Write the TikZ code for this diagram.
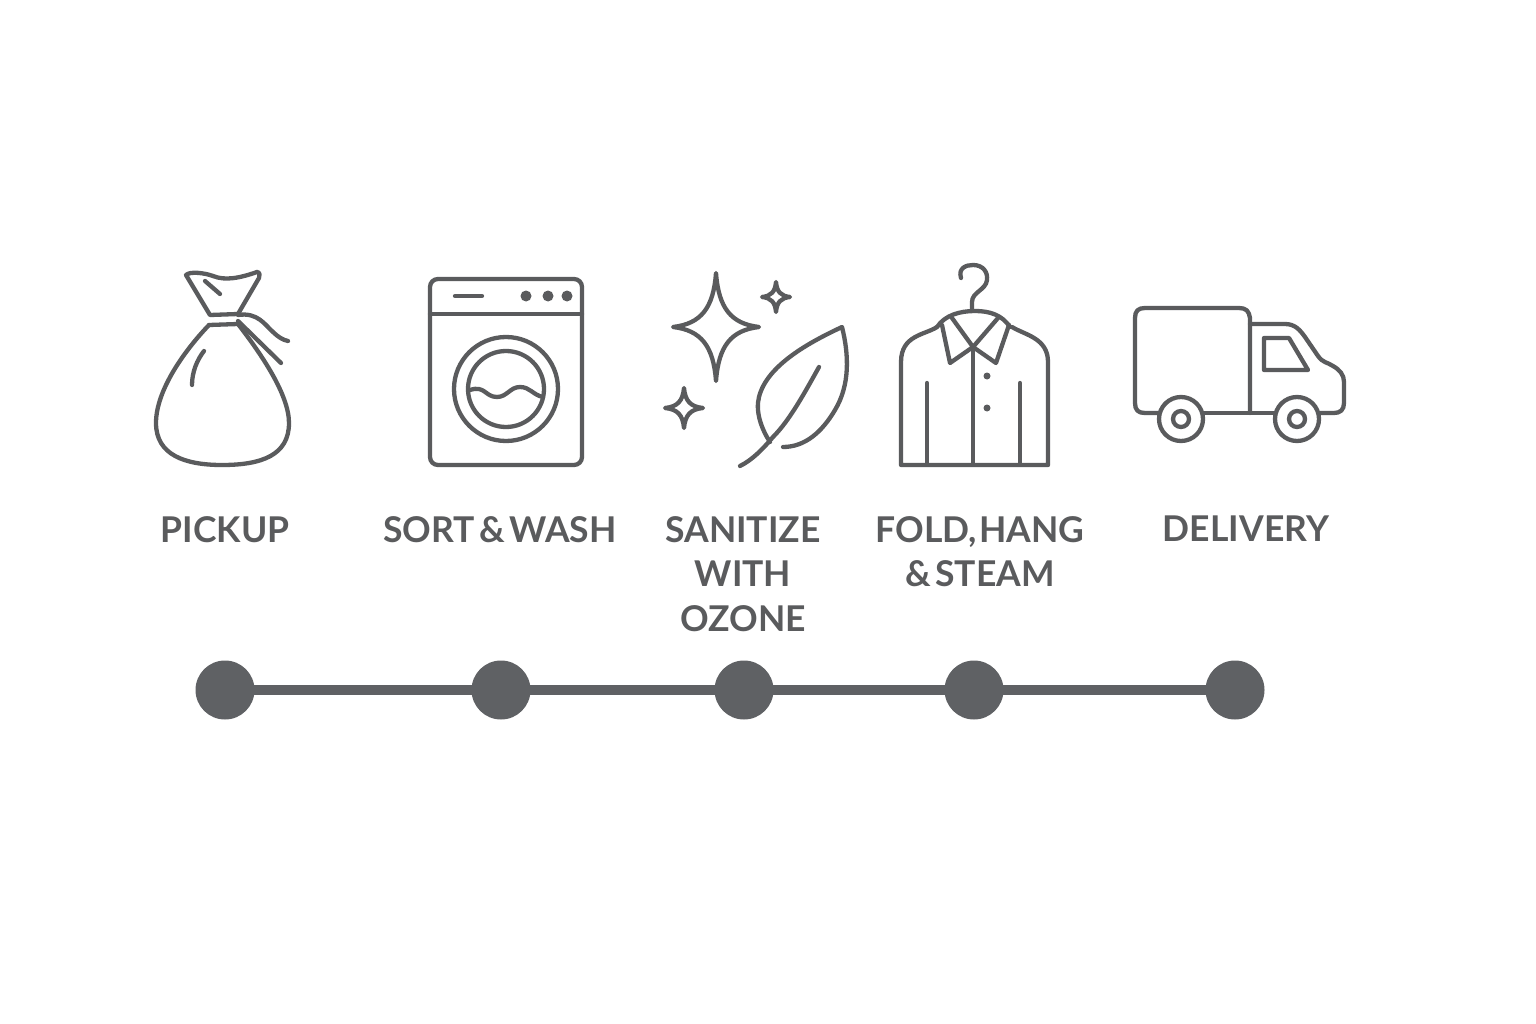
\documentclass[tikz,border=0pt]{standalone}
\usepackage{fontspec}
\setmainfont{Lato}
\definecolor{inkgray}{HTML}{5A5B5D}
\definecolor{dotgray}{HTML}{5F6164}
\begin{document}
\begin{tikzpicture}[x=1pt,y=-1pt]
	\tikzset{dot/.style={circle, fill=dotgray, inner sep=0pt, minimum size=59pt}}
	\tikzset{bar/.style={dotgray, line width=10pt, shorten <=-3pt, shorten >=-3pt}}
	\tikzset{icon/.style={draw=inkgray, line width=4.3pt, line cap=round, line join=round}}
	\tikzset{steplabel/.style={anchor=north, inner sep=0pt, align=center, text=inkgray, font=\fontsize{35.5}{44.5}\selectfont\bfseries, execute at begin node={\spaceskip=4.5pt\relax}}}
	\useasboundingbox (0,0) rectangle (1536,1024);
	% bag
	\draw[icon] (186,275) .. controls (190,271) and (205,273) .. (213,276) .. controls (225,281) and (240,278) .. (257,272) .. controls (260,272) and (260,276) .. (259,278) -- (238,314) -- (210,315) -- cycle;
	\draw[icon] (205,281) -- (220,294);
	\draw[icon] (209,325) -- (238,324);
	\draw[icon] (209,325) .. controls (185,350) and (156,390) .. (156,423) .. controls (156,455) and (185,465) .. (222,465) .. controls (262,465) and (289,455) .. (289,423) .. controls (289,395) and (262,355) .. (238,324);
	\draw[icon] (204,351) .. controls (197,360) and (192,372) .. (192,385);
	\draw[icon] (238,315) .. controls (258,312) and (265,325) .. (273,332) .. controls (278,337) and (283,340) .. (288,341);
	\draw[icon] (238,321) -- (281,363);
	% washer
	\draw[icon, rounded corners=8pt] (430,279) rectangle (582,465);
	\draw[icon] (430,314) -- (582,314);
	\draw[icon] (455,296) -- (482,296);
	\foreach \dx in {526,548,567}
		\fill[inkgray] (\dx,296) circle (5.5pt);
	\draw[icon] (506,389) circle (52pt);
	\draw[icon] (506,389) circle (38pt);
	\draw[icon] (470,390) .. controls (485,385) and (485,397) .. (497,397) .. controls (507,397) and (510,387) .. (520,387) .. controls (530,387) and (533,395) .. (543,397);
	% sparkles
	\foreach \cx/\cy/\rw/\rh in {716/327/43/54, 776/297/14/15, 684/408/19/20}
		\draw[icon] (\cx,{\cy-\rh}) .. controls ({\cx+0.06*\rw},{\cy-0.35*\rh}) and ({\cx+0.35*\rw},{\cy-0.06*\rh}) .. ({\cx+\rw},\cy)
			.. controls ({\cx+0.35*\rw},{\cy+0.06*\rh}) and ({\cx+0.06*\rw},{\cy+0.35*\rh}) .. (\cx,{\cy+\rh})
			.. controls ({\cx-0.06*\rw},{\cy+0.35*\rh}) and ({\cx-0.35*\rw},{\cy+0.06*\rh}) .. ({\cx-\rw},\cy)
			.. controls ({\cx-0.35*\rw},{\cy-0.06*\rh}) and ({\cx-0.06*\rw},{\cy-0.35*\rh}) .. cycle;
	% leaf
	\draw[icon] (770,442) .. controls (762,430) and (755,412) .. (759,397) .. controls (767,365) and (810,342) .. (842,327) .. controls (849,355) and (850,385) .. (835,410) .. controls (822,432) and (805,447) .. (783,447);
	\draw[icon] (819,367) .. controls (805,392) and (790,420) .. (773,437) .. controls (762,450) and (752,460) .. (740,466);
	% shirt
	\draw[icon] (961,278) .. controls (958,268) and (966,265) .. (973,265) .. controls (983,265) and (988,272) .. (987,280) .. controls (986,290) and (972,292) .. (972,302) -- (972,310);
	\draw[icon] (937,327) .. controls (945,315) and (960,311) .. (975,311) .. controls (990,311) and (1002,315) .. (1010,327);
	\draw[icon] (942,325) -- (950,363) -- (973,347) -- (996,363) -- (1009,325);
	\draw[icon] (952,318) -- (973,347) -- (998,318);
	\draw[icon] (937,327) .. controls (925,335) and (901,335) .. (901,362) -- (901,465) -- (1048,465) -- (1048,362) .. controls (1048,338) and (1025,335) .. (1012,327);
	\draw[icon] (973,347) -- (973,463);
	\draw[icon] (927,383) -- (927,463);
	\draw[icon] (1020,383) -- (1020,463);
	\fill[inkgray] (987,376) circle (3.5pt);
	\fill[inkgray] (987,408) circle (3.5pt);
	% truck
	\draw[icon] (1159,413) -- (1145,413) .. controls (1138,413) and (1135,410) .. (1135,403) -- (1135,318) .. controls (1135,311) and (1138,308) .. (1145,308) -- (1239,308) .. controls (1246,308) and (1249,311) .. (1250,318) -- (1250,413);
	\draw[icon] (1203,413) -- (1274,413);
	\draw[icon] (1250,324) -- (1285,324) .. controls (1295,324) and (1300,330) .. (1305,337) -- (1318,356) .. controls (1323,363) and (1327,362) .. (1333,366) .. controls (1340,370) and (1344,375) .. (1344,382) -- (1344,403) .. controls (1344,410) and (1340,413) .. (1334,413) -- (1320,413);
	\draw[icon] (1264,338) -- (1289,338) -- (1308,370) -- (1264,370) -- cycle;
	\foreach \wx in {1181,1297} {
		\draw[icon] (\wx,419) circle (22pt);
		\draw[icon] (\wx,419) circle (8pt);
	}
	% labels
	\node[steplabel] (pickup) at (225,516) {PICKUP};
	\node[steplabel] (sortwash) at (500,516) {SORT \& WASH};
	\node[steplabel] (sanitize) at (743,516) {SANITIZE\\WITH\\OZONE};
	\node[steplabel] (fold) at (980,516) {FOLD,\kern2pt HANG\\\& STEAM};
	\node[steplabel] (delivery) at (1246,516) {DELIVERY};
	% timeline
	\node[dot] (d1) at (225,690) {};
	\node[dot] (d2) at (501,690) {};
	\node[dot] (d3) at (744,690) {};
	\node[dot] (d4) at (974,690) {};
	\node[dot] (d5) at (1235,690) {};
	\draw[bar] (d1) -- (d2);
	\draw[bar] (d2) -- (d3);
	\draw[bar] (d3) -- (d4);
	\draw[bar] (d4) -- (d5);
\end{tikzpicture}
\end{document}
